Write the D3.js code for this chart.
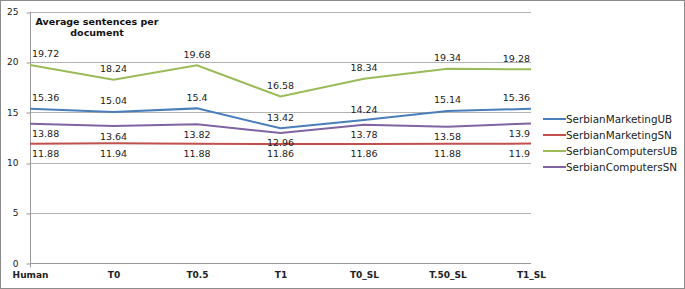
<!DOCTYPE html>
<html><head><meta charset="utf-8">
<script src="https://cdn.jsdelivr.net/npm/d3@7"></script>
<style>body{margin:0;background:#fff}svg{display:block}</style>
</head><body>
<script>
const categories = ["Human","T0","T0.5","T1","T0_SL","T.50_SL","T1_SL"];
const seriesNames = ["SerbianMarketingUB","SerbianMarketingSN","SerbianComputersUB","SerbianComputersSN"];
const marketingUB = [15.36,15.04,15.4,13.42,14.24,15.14,15.36];
const marketingSN = [11.88,11.94,11.88,11.86,11.86,11.88,11.9];
const computersUB = [19.72,18.24,19.68,16.58,18.34,19.34,19.28];
const computersSN = [13.88,13.64,13.82,12.96,13.78,13.58,13.9];
const yTicks = [0,5,10,15,20,25];
const colors = ["#4a7ebb","#c0504d","#9bbb59","#8064a2"];
const labelSide = ["above","below","above","below"];
const title = ["Average sentences per","document"];

const series = [marketingUB, marketingSN, computersUB, computersSN];
const W = 685, H = 289;
const svg = d3.select("body").append("svg").attr("width",W).attr("height",H);
svg.append("rect").attr("x",0.5).attr("y",0.5).attr("width",W-1).attr("height",H-1)
  .attr("fill","#fff").attr("stroke","#8c8c8c");

const x = d3.scalePoint().domain(categories).range([30,531]);
const y = d3.scaleLinear().domain([0,25]).range([263.3,11.8]);
const font = "DejaVu Sans";

// gridlines
svg.append("g").selectAll("line").data(yTicks.filter(d=>d>0)).join("line")
  .attr("x1",30).attr("x2",531).attr("y1",d=>Math.round(y(d))+0.5).attr("y2",d=>Math.round(y(d))+0.5)
  .attr("stroke","#b3b3b3").attr("stroke-width",1);

// y axis
const yAxis = d3.axisLeft(y).tickValues(yTicks).tickSize(4).tickPadding(8).tickFormat(d3.format("d"));
const gy = svg.append("g").attr("transform","translate(30.5,0)").call(yAxis);
gy.select(".domain").attr("stroke","#999").attr("d","M0,"+y(25)+"V"+(y(0)+4));
gy.selectAll(".tick line").attr("stroke","#999").attr("transform",d=>"translate(0,"+(Math.round(y(d))+0.5-y(d))+")");
gy.selectAll("text").attr("font-family",font).attr("font-size","9px").attr("fill","#222");

// x axis
const xAxis = d3.axisBottom(x).tickSize(0).tickPadding(8);
const gx = svg.append("g").attr("transform","translate(0,"+(Math.round(y(0))+0.5)+")").call(xAxis);
gx.select(".domain").attr("stroke","#999").attr("d","M30,0H531");
gx.selectAll("text").attr("font-family",font).attr("font-size","9px").attr("font-weight","bold").attr("fill","#222");

// lines
const line = d3.line().x((d,i)=>x(categories[i])).y(d=>y(d));
series.forEach((s,k)=>{
  svg.append("path").datum(s).attr("d",line).attr("fill","none")
    .attr("stroke",colors[k]).attr("stroke-width",2);
});

// data labels
series.forEach((s,k)=>{
  const g = svg.append("g");
  s.forEach((v,i)=>{
    const t = g.append("text").text(String(v))
      .attr("font-family",font).attr("font-size","9.5px").attr("fill","#222")
      .attr("text-anchor","middle").attr("dominant-baseline","central")
      .attr("x",x(categories[i]))
      .attr("y", labelSide[k]==="above" ? y(v)-11 : y(v)+10);
    const bb = t.node().getBBox();
    if (bb.x < 32) t.attr("x", x(categories[i]) + (32-bb.x));
    if (bb.x+bb.width > 530) t.attr("x", x(categories[i]) - (bb.x+bb.width-530));
  });
});

// title
svg.append("text").attr("x",97).attr("y",25).attr("text-anchor","middle")
  .attr("font-family",font).attr("font-size","9.5px").attr("font-weight","bold").attr("fill","#111")
  .selectAll("tspan").data(title).join("tspan").attr("x",97).attr("dy",(d,i)=>i?11:0).text(d=>d);

// legend
const lg = svg.append("g");
seriesNames.forEach((n,k)=>{
  const yy = 119 + k*16;
  lg.append("line").attr("x1",543).attr("x2",566).attr("y1",yy).attr("y2",yy)
    .attr("stroke",colors[k]).attr("stroke-width",2);
  lg.append("text").attr("x",566).attr("y",yy).attr("dominant-baseline","central")
    .attr("font-family",font).attr("font-size","10.4px").attr("fill","#222").text(n);
});
</script>
</body></html>
